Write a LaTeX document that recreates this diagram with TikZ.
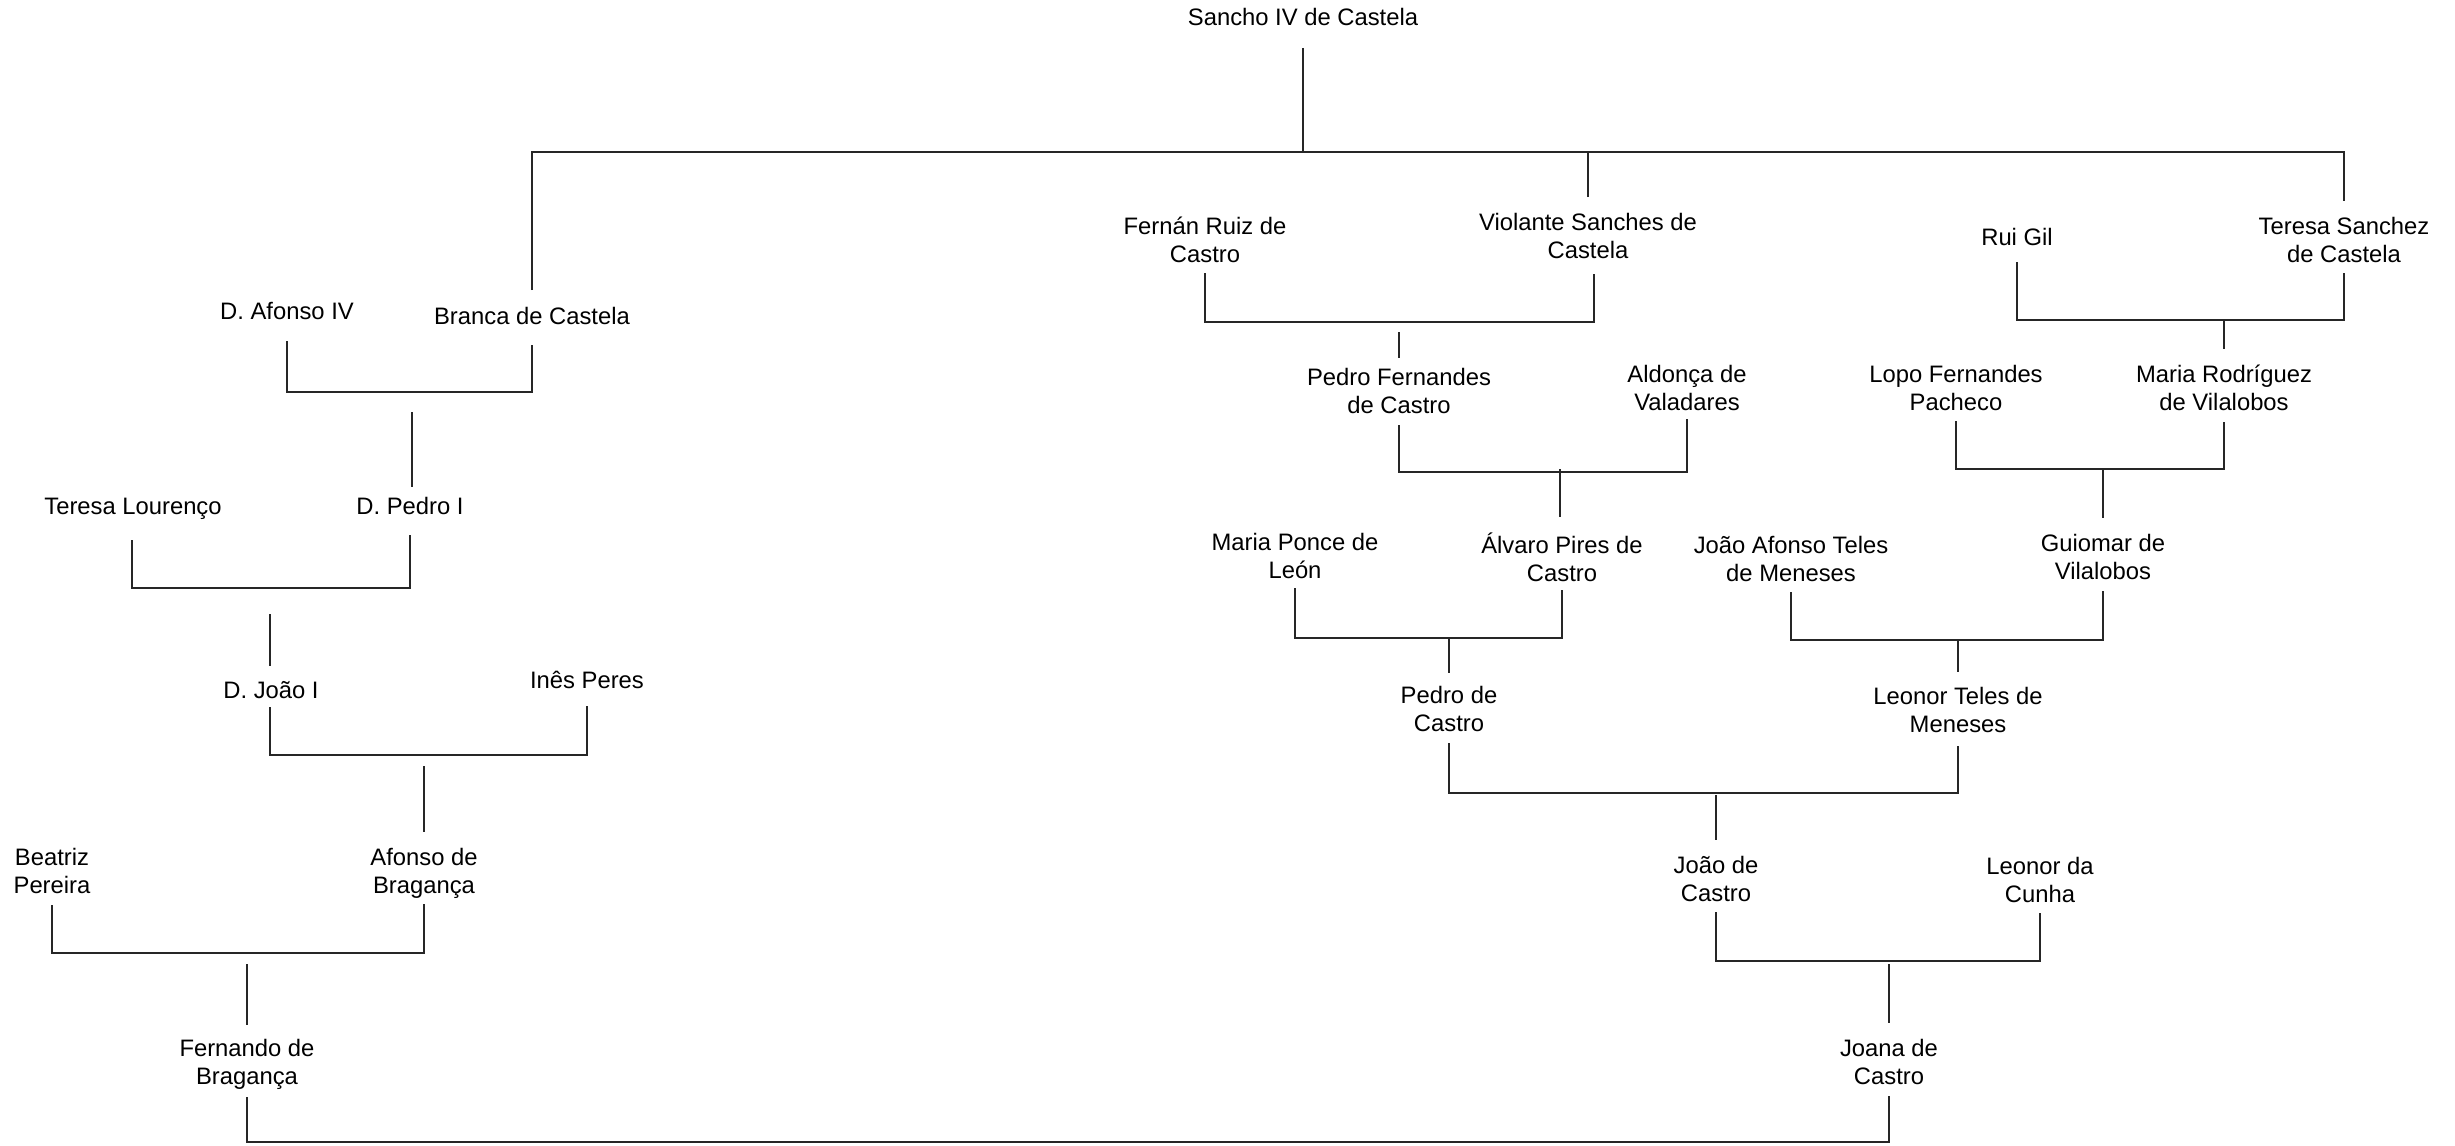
\documentclass[tikz,border=0pt]{standalone}
\usepackage{fontspec}
\setmainfont{Liberation Sans}
\begin{document}
\begin{tikzpicture}[x=0.5pt,y=-0.5pt,
  person/.style={font=\fontsize{11.9}{14}\selectfont, align=center, inner sep=0pt,
    execute at begin node=\strut, execute at end node=\strut},
  link/.style={line width=0.6pt, draw=black!85}]
\useasboundingbox (0,0) rectangle (2455,1145);

% persons
\node[person] (sancho)   at (1303,20)  {Sancho IV de Castela};
\node[person] (afonso4)  at (287,314)  {D. Afonso IV};
\node[person] (branca)   at (532,319)  {Branca de Castela};
\node[person] (teresaL)  at (133,509)  {Teresa Lourenço};
\node[person] (pedro1)   at (410,509)  {D. Pedro I};
\node[person] (joao1)    at (271,693)  {D. João I};
\node[person] (ines)     at (587,683)  {Inês Peres};
\node[person] (beatriz)  at (52,875)   {Beatriz\\Pereira};
\node[person] (afonsoB)  at (424,875)  {Afonso de\\Bragança};
\node[person] (fernando) at (247,1066) {Fernando de\\Bragança};
\node[person] (fernan)   at (1205,244) {Fernán Ruiz de\\Castro};
\node[person] (violante) at (1588,240) {Violante Sanches de\\Castela};
\node[person] (ruigil)   at (2017,240) {Rui Gil};
\node[person] (teresaS)  at (2344,244) {Teresa Sanchez\\de Castela};
\node[person] (pedroF)   at (1399,395) {Pedro Fernandes\\de Castro};
\node[person] (aldonca)  at (1687,392) {Aldonça de\\Valadares};
\node[person] (lopo)     at (1956,392) {Lopo Fernandes\\Pacheco};
\node[person] (mariaR)   at (2224,392) {Maria Rodríguez\\de Vilalobos};
\node[person] (mariaP)   at (1295,560) {Maria Ponce de\\León};
\node[person] (alvaro)   at (1562,561) {Álvaro Pires de\\Castro};
\node[person] (joaoA)    at (1791,563) {João Afonso Teles\\de Meneses};
\node[person] (guiomar)  at (2103,561) {Guiomar de\\Vilalobos};
\node[person] (pedroC)   at (1449,713) {Pedro de\\Castro};
\node[person] (leonorT)  at (1958,714) {Leonor Teles de\\Meneses};
\node[person] (joaoC)    at (1716,883) {João de\\Castro};
\node[person] (leonorC)  at (2040,884) {Leonor da\\Cunha};
\node[person] (joana)    at (1889,1066) {Joana de\\Castro};

% connector ends
\coordinate (sancho-s) at (1303,48);
\coordinate (m1) at (1303,152);
\coordinate (branca-n) at (532,290);
\coordinate (violante-n) at (1588,197);
\coordinate (teresaS-n) at (2344,201);

\coordinate (afonso4-s) at (287,341);
\coordinate (branca-s) at (532,345);
\coordinate (m2) at (412,392);
\coordinate (c2) at (412,412);
\coordinate (pedro1-n) at (412,487);

\coordinate (teresaL-s) at (132,540);
\coordinate (pedro1-s) at (410,535);
\coordinate (m3) at (270,588);
\coordinate (c3) at (270,614);
\coordinate (joao1-n) at (270,666);

\coordinate (joao1-s) at (270,707);
\coordinate (ines-s) at (587,706);
\coordinate (m4) at (424,755);
\coordinate (c4) at (424,766);
\coordinate (afonsoB-n) at (424,832);

\coordinate (beatriz-s) at (52,905);
\coordinate (afonsoB-s) at (424,904);
\coordinate (m5) at (247,953);
\coordinate (c5) at (247,964);
\coordinate (fernando-n) at (247,1025);

\coordinate (fernando-s) at (247,1097);
\coordinate (joana-s) at (1889,1096);
\coordinate (m6) at (1068,1142);

\coordinate (fernan-s) at (1205,273);
\coordinate (violante-s) at (1594,274);
\coordinate (m7) at (1399,322);
\coordinate (c7) at (1399,332);
\coordinate (pedroF-n) at (1399,358);

\coordinate (pedroF-s) at (1399,425);
\coordinate (aldonca-s) at (1687,419);
\coordinate (m8) at (1560,472);
\coordinate (c8) at (1560,469);
\coordinate (alvaro-n) at (1560,517);

\coordinate (mariaP-s) at (1295,588);
\coordinate (alvaro-s) at (1562,590);
\coordinate (m9) at (1449,638);
\coordinate (pedroC-n) at (1449,673);

\coordinate (ruigil-s) at (2017,262);
\coordinate (teresaS-s) at (2344,273);
\coordinate (m10) at (2224,320);
\coordinate (mariaR-n) at (2224,349);

\coordinate (lopo-s) at (1956,421);
\coordinate (mariaR-s) at (2224,422);
\coordinate (m11) at (2103,469);
\coordinate (guiomar-n) at (2103,518);

\coordinate (joaoA-s) at (1791,592);
\coordinate (guiomar-s) at (2103,591);
\coordinate (m12) at (1958,640);
\coordinate (leonorT-n) at (1958,672);

\coordinate (pedroC-s) at (1449,743);
\coordinate (leonorT-s) at (1958,746);
\coordinate (m13) at (1716,793);
\coordinate (c13) at (1716,795);
\coordinate (joaoC-n) at (1716,840);

\coordinate (joaoC-s) at (1716,912);
\coordinate (leonorC-s) at (2040,913);
\coordinate (m14) at (1889,961);
\coordinate (c14) at (1889,964);
\coordinate (joana-n) at (1889,1023);

% connectors
\draw[link] (sancho-s) -- (m1);
\draw[link] (branca-n) |- (m1) -| (teresaS-n);
\draw[link] (violante-n) -- (violante-n |- m1);

\draw[link] (afonso4-s) |- (m2) -| (branca-s);
\draw[link] (c2) -- (pedro1-n);
\draw[link] (teresaL-s) |- (m3) -| (pedro1-s);
\draw[link] (c3) -- (joao1-n);
\draw[link] (joao1-s) |- (m4) -| (ines-s);
\draw[link] (c4) -- (afonsoB-n);
\draw[link] (beatriz-s) |- (m5) -| (afonsoB-s);
\draw[link] (c5) -- (fernando-n);
\draw[link] (fernando-s) |- (m6) -| (joana-s);

\draw[link] (fernan-s) |- (m7) -| (violante-s);
\draw[link] (c7) -- (pedroF-n);
\draw[link] (pedroF-s) |- (m8) -| (aldonca-s);
\draw[link] (c8) -- (alvaro-n);
\draw[link] (mariaP-s) |- (m9) -| (alvaro-s);
\draw[link] (m9) -- (pedroC-n);

\draw[link] (ruigil-s) |- (m10) -| (teresaS-s);
\draw[link] (m10) -- (mariaR-n);
\draw[link] (lopo-s) |- (m11) -| (mariaR-s);
\draw[link] (m11) -- (guiomar-n);
\draw[link] (joaoA-s) |- (m12) -| (guiomar-s);
\draw[link] (m12) -- (leonorT-n);

\draw[link] (pedroC-s) |- (m13) -| (leonorT-s);
\draw[link] (c13) -- (joaoC-n);
\draw[link] (joaoC-s) |- (m14) -| (leonorC-s);
\draw[link] (c14) -- (joana-n);
\end{tikzpicture}
\end{document}
